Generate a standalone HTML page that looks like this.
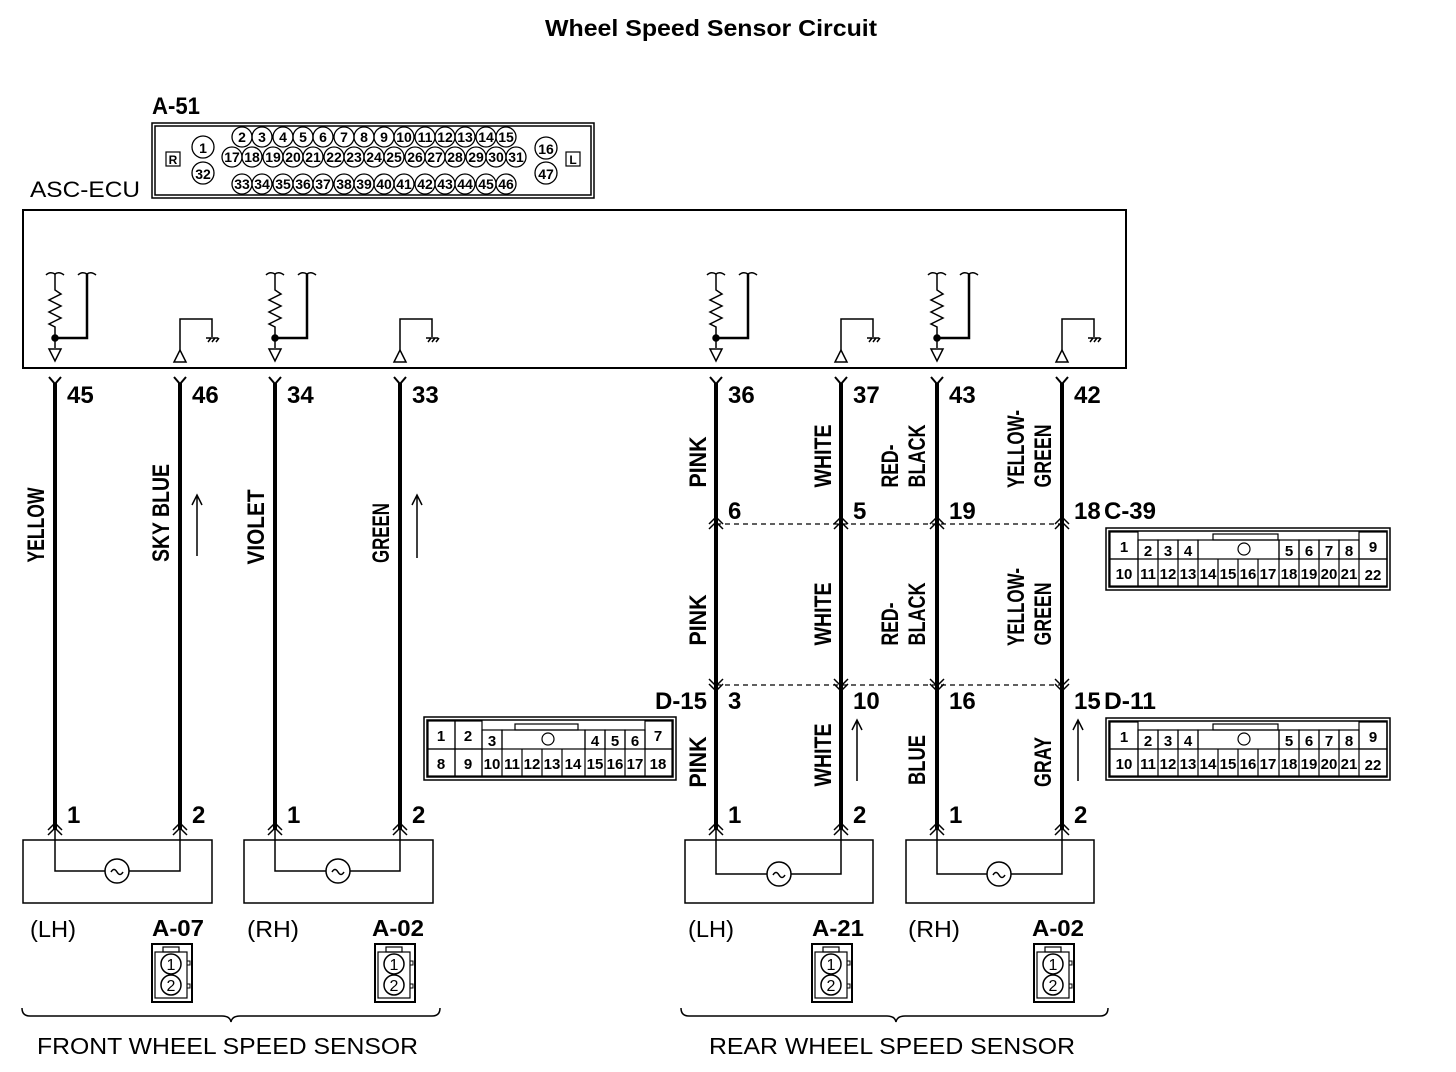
<!DOCTYPE html>
<html><head><meta charset="utf-8"><style>
html,body{margin:0;padding:0;background:#fff}
svg{display:block}
text{font-family:"Liberation Sans Narrow","Liberation Sans",sans-serif;fill:#000}
.b{font-weight:bold}
</style></head><body>
<svg width="1456" height="1072" viewBox="0 0 1456 1072" xmlns="http://www.w3.org/2000/svg">
<defs>
<g id="inp" fill="none" stroke="#000" stroke-width="1.5">
<path d="M-9,275 q4,-4 9,-1 q4,-3 9,1"/>
<path d="M0,274 V290 L6,294 L-6,300 L6,306 L-6,312 L6,318 L-6,324 L0,327 V348"/>
<path d="M23,275 q4,-4 9,-1 q4,-3 9,1"/>
<path d="M32,274 V338 H0" stroke-width="2.5"/>
<circle cx="0" cy="338" r="3" fill="#000"/>
<path d="M-6,349 H6 L0,361 Z"/>
</g>
<g id="out" fill="none" stroke="#000" stroke-width="1.5">
<path d="M-6,362 H6 L0,350 Z"/>
<path d="M0,350 V319 H32 V337"/>
<path d="M26,338 H38 M28,342 l3,-4 M32,342 l3,-4 M36,342 l3,-4"/>
</g>
<g id="ytop" fill="none" stroke="#000" stroke-width="2">
<path d="M-6,377 L0,384 L6,377"/>
</g>
<g id="dup" fill="none" stroke="#000" stroke-width="1.5">
<path d="M-7,8 L0,1 L7,8 M-7,13 L0,6 L7,13"/>
</g>
<g id="ddn" fill="none" stroke="#000" stroke-width="1.5">
<path d="M-7,-8 L0,-1 L7,-8 M-7,-13 L0,-6 L7,-13"/>
</g>
<g id="mini">
<rect x="0" y="0" width="40" height="58" fill="#fff" stroke="#000" stroke-width="2"/>
<rect x="3" y="8" width="32" height="46" fill="none" stroke="#000" stroke-width="1.2"/>
<rect x="11" y="3" width="16" height="5" fill="none" stroke="#000" stroke-width="1.2"/>
<rect x="35" y="17" width="3" height="4" fill="none" stroke="#000" stroke-width="1"/>
<rect x="35" y="40" width="3" height="4" fill="none" stroke="#000" stroke-width="1"/>
<circle cx="19" cy="20" r="10" fill="none" stroke="#000" stroke-width="1.5"/>
<circle cx="19" cy="41" r="10" fill="none" stroke="#000" stroke-width="1.5"/>
<text x="19" y="26" font-size="16" text-anchor="middle">1</text>
<text x="19" y="47" font-size="16" text-anchor="middle">2</text>
</g>
<g id="c39" font-size="15" class="b">
<rect x="0" y="0" width="284" height="62" fill="none" stroke="#000" stroke-width="1.5"/>
<rect x="3" y="3" width="278" height="56" fill="none" stroke="#000" stroke-width="1.5"/>
<g fill="none" stroke="#000" stroke-width="1.2">
<rect x="4" y="4" width="28" height="27"/><rect x="4" y="31" width="28" height="27"/>
<rect x="32" y="12" width="20" height="19"/><rect x="52" y="12" width="20" height="19"/><rect x="72" y="12" width="20" height="19"/>
<rect x="92" y="12" width="81" height="19"/><rect x="107" y="6" width="65" height="6"/>
<circle cx="138" cy="21" r="6"/>
<rect x="173" y="12" width="20" height="19"/><rect x="193" y="12" width="20" height="19"/><rect x="213" y="12" width="20" height="19"/><rect x="233" y="12" width="20" height="19"/>
<rect x="253" y="4" width="28" height="27"/><rect x="253" y="31" width="28" height="27"/>
<path d="M32,31 V58 H253 M52,31V58 M72,31V58 M92,31V58 M112,31V58 M132,31V58 M152,31V58 M173,31V58 M193,31V58 M213,31V58 M233,31V58"/>
</g>
<text x="18" y="24" text-anchor="middle">1</text><text x="18" y="51" text-anchor="middle">10</text>
<text x="42" y="28" text-anchor="middle">2</text><text x="62" y="28" text-anchor="middle">3</text><text x="82" y="28" text-anchor="middle">4</text>
<text x="183" y="28" text-anchor="middle">5</text><text x="203" y="28" text-anchor="middle">6</text><text x="223" y="28" text-anchor="middle">7</text><text x="243" y="28" text-anchor="middle">8</text>
<text x="267" y="24" text-anchor="middle">9</text><text x="267" y="52" text-anchor="middle">22</text>
<g text-anchor="middle"><text x="42" y="51">11</text><text x="62" y="51">12</text><text x="82" y="51">13</text><text x="102" y="51">14</text><text x="122" y="51">15</text><text x="142" y="51">16</text><text x="162" y="51">17</text><text x="183" y="51">18</text><text x="203" y="51">19</text><text x="223" y="51">20</text><text x="243" y="51">21</text></g>
</g>
</defs>

<text x="545" y="36" font-size="23" class="b" textLength="332" lengthAdjust="spacingAndGlyphs" font-family="Liberation Sans">Wheel Speed Sensor Circuit</text>

<!-- A-51 -->
<text x="152" y="114" font-size="24" class="b" textLength="48" lengthAdjust="spacingAndGlyphs">A-51</text>
<rect x="152" y="123" width="442" height="75" fill="none" stroke="#000" stroke-width="1.5"/>
<rect x="155" y="126" width="436" height="69" fill="none" stroke="#000" stroke-width="1.5"/>
<rect x="166" y="152" width="14" height="14" fill="none" stroke="#000" stroke-width="1.2"/>
<text x="173" y="164" font-size="12" class="b" text-anchor="middle">R</text>
<rect x="566" y="152" width="14" height="14" fill="none" stroke="#000" stroke-width="1.2"/>
<text x="573" y="164" font-size="12" class="b" text-anchor="middle">L</text>
<g fill="none" stroke="#000" stroke-width="1.3">
<circle cx="203" cy="147" r="11"/><circle cx="203" cy="173" r="11"/><circle cx="546" cy="148" r="11"/><circle cx="546" cy="173" r="11"/>
<circle cx="242" cy="137" r="10"/><circle cx="262" cy="137" r="10"/><circle cx="283" cy="137" r="10"/><circle cx="303" cy="137" r="10"/><circle cx="323" cy="137" r="10"/><circle cx="344" cy="137" r="10"/><circle cx="364" cy="137" r="10"/><circle cx="384" cy="137" r="10"/><circle cx="404" cy="137" r="10"/><circle cx="425" cy="137" r="10"/><circle cx="445" cy="137" r="10"/><circle cx="465" cy="137" r="10"/><circle cx="486" cy="137" r="10"/><circle cx="506" cy="137" r="10"/>
<circle cx="232" cy="157" r="10"/><circle cx="252" cy="157" r="10"/><circle cx="273" cy="157" r="10"/><circle cx="293" cy="157" r="10"/><circle cx="313" cy="157" r="10"/><circle cx="334" cy="157" r="10"/><circle cx="354" cy="157" r="10"/><circle cx="374" cy="157" r="10"/><circle cx="394" cy="157" r="10"/><circle cx="415" cy="157" r="10"/><circle cx="435" cy="157" r="10"/><circle cx="455" cy="157" r="10"/><circle cx="476" cy="157" r="10"/><circle cx="496" cy="157" r="10"/><circle cx="516" cy="157" r="10"/>
<circle cx="242" cy="184" r="10"/><circle cx="262" cy="184" r="10"/><circle cx="283" cy="184" r="10"/><circle cx="303" cy="184" r="10"/><circle cx="323" cy="184" r="10"/><circle cx="344" cy="184" r="10"/><circle cx="364" cy="184" r="10"/><circle cx="384" cy="184" r="10"/><circle cx="404" cy="184" r="10"/><circle cx="425" cy="184" r="10"/><circle cx="445" cy="184" r="10"/><circle cx="465" cy="184" r="10"/><circle cx="486" cy="184" r="10"/><circle cx="506" cy="184" r="10"/>
</g>
<g font-size="14" class="b" text-anchor="middle">
<text x="203" y="153">1</text><text x="203" y="179">32</text><text x="546" y="154">16</text><text x="546" y="179">47</text>
<text x="242" y="142">2</text><text x="262" y="142">3</text><text x="283" y="142">4</text><text x="303" y="142">5</text><text x="323" y="142">6</text><text x="344" y="142">7</text><text x="364" y="142">8</text><text x="384" y="142">9</text><text x="404" y="142">10</text><text x="425" y="142">11</text><text x="445" y="142">12</text><text x="465" y="142">13</text><text x="486" y="142">14</text><text x="506" y="142">15</text>
<text x="232" y="162">17</text><text x="252" y="162">18</text><text x="273" y="162">19</text><text x="293" y="162">20</text><text x="313" y="162">21</text><text x="334" y="162">22</text><text x="354" y="162">23</text><text x="374" y="162">24</text><text x="394" y="162">25</text><text x="415" y="162">26</text><text x="435" y="162">27</text><text x="455" y="162">28</text><text x="476" y="162">29</text><text x="496" y="162">30</text><text x="516" y="162">31</text>
<text x="242" y="189">33</text><text x="262" y="189">34</text><text x="283" y="189">35</text><text x="303" y="189">36</text><text x="323" y="189">37</text><text x="344" y="189">38</text><text x="364" y="189">39</text><text x="384" y="189">40</text><text x="404" y="189">41</text><text x="425" y="189">42</text><text x="445" y="189">43</text><text x="465" y="189">44</text><text x="486" y="189">45</text><text x="506" y="189">46</text>
</g>

<!-- ECU -->
<text x="30" y="197" font-size="22" font-family="Liberation Sans" textLength="110" lengthAdjust="spacingAndGlyphs">ASC-ECU</text>
<rect x="23" y="210" width="1103" height="158" fill="none" stroke="#000" stroke-width="2"/>
<use href="#inp" x="55"/><use href="#out" x="180"/><use href="#inp" x="275"/><use href="#out" x="400"/>
<use href="#inp" x="716"/><use href="#out" x="841"/><use href="#inp" x="937"/><use href="#out" x="1062"/>

<!-- wires -->
<g stroke="#000" stroke-width="4">
<path d="M55,383V830 M180,383V830 M275,383V830 M400,383V830 M716,383V830 M841,383V830 M937,383V830 M1062,383V830"/>
</g>
<use href="#ytop" x="55"/><use href="#ytop" x="180"/><use href="#ytop" x="275"/><use href="#ytop" x="400"/>
<use href="#ytop" x="716"/><use href="#ytop" x="841"/><use href="#ytop" x="937"/><use href="#ytop" x="1062"/>

<g font-size="24" class="b">
<text x="67" y="403">45</text><text x="192" y="403">46</text><text x="287" y="403">34</text><text x="412" y="403">33</text>
<text x="728" y="403">36</text><text x="853" y="403">37</text><text x="949" y="403">43</text><text x="1074" y="403">42</text>
<text x="728" y="519">6</text><text x="853" y="519">5</text><text x="949" y="519">19</text><text x="1074" y="519">18</text><text x="1104" y="519" textLength="52" lengthAdjust="spacingAndGlyphs">C-39</text>
<text x="655" y="709" textLength="52" lengthAdjust="spacingAndGlyphs">D-15</text><text x="728" y="709">3</text><text x="853" y="709">10</text><text x="949" y="709">16</text><text x="1074" y="709">15</text><text x="1104" y="709" textLength="52" lengthAdjust="spacingAndGlyphs">D-11</text>
<text x="67" y="823">1</text><text x="192" y="823">2</text><text x="287" y="823">1</text><text x="412" y="823">2</text>
<text x="728" y="823">1</text><text x="853" y="823">2</text><text x="949" y="823">1</text><text x="1074" y="823">2</text>
</g>

<!-- junctions -->
<g stroke="#000" stroke-width="1.2" stroke-dasharray="5,4" fill="none">
<path d="M716,524 H1062 M716,685 H1062"/>
</g>
<use href="#dup" x="716" y="516"/><use href="#dup" x="841" y="516"/><use href="#dup" x="937" y="516"/><use href="#dup" x="1062" y="516"/>
<use href="#ddn" x="716" y="692"/><use href="#ddn" x="841" y="692"/><use href="#ddn" x="937" y="692"/><use href="#ddn" x="1062" y="692"/>
<use href="#dup" x="55" y="822"/><use href="#dup" x="180" y="822"/><use href="#dup" x="275" y="822"/><use href="#dup" x="400" y="822"/>
<use href="#dup" x="716" y="822"/><use href="#dup" x="841" y="822"/><use href="#dup" x="937" y="822"/><use href="#dup" x="1062" y="822"/>

<!-- vertical labels -->
<g font-size="24" class="b" text-anchor="middle" lengthAdjust="spacingAndGlyphs">
<text transform="translate(44,525) rotate(-90)" textLength="75" lengthAdjust="spacingAndGlyphs">YELLOW</text>
<text transform="translate(169,513) rotate(-90)" textLength="98" lengthAdjust="spacingAndGlyphs">SKY BLUE</text>
<text transform="translate(264,527) rotate(-90)" textLength="75" lengthAdjust="spacingAndGlyphs">VIOLET</text>
<text transform="translate(389,533) rotate(-90)" textLength="60" lengthAdjust="spacingAndGlyphs">GREEN</text>
<text transform="translate(706,462) rotate(-90)" textLength="51" lengthAdjust="spacingAndGlyphs">PINK</text>
<text transform="translate(831,456) rotate(-90)" textLength="63" lengthAdjust="spacingAndGlyphs">WHITE</text>
<text transform="translate(898,466) rotate(-90)" textLength="43" lengthAdjust="spacingAndGlyphs">RED-</text>
<text transform="translate(925,456) rotate(-90)" textLength="63" lengthAdjust="spacingAndGlyphs">BLACK</text>
<text transform="translate(1024,449) rotate(-90)" textLength="78" lengthAdjust="spacingAndGlyphs">YELLOW-</text>
<text transform="translate(1051,456) rotate(-90)" textLength="63" lengthAdjust="spacingAndGlyphs">GREEN</text>
<text transform="translate(706,620) rotate(-90)" textLength="51" lengthAdjust="spacingAndGlyphs">PINK</text>
<text transform="translate(831,614) rotate(-90)" textLength="63" lengthAdjust="spacingAndGlyphs">WHITE</text>
<text transform="translate(898,624) rotate(-90)" textLength="43" lengthAdjust="spacingAndGlyphs">RED-</text>
<text transform="translate(925,614) rotate(-90)" textLength="63" lengthAdjust="spacingAndGlyphs">BLACK</text>
<text transform="translate(1024,607) rotate(-90)" textLength="78" lengthAdjust="spacingAndGlyphs">YELLOW-</text>
<text transform="translate(1051,614) rotate(-90)" textLength="63" lengthAdjust="spacingAndGlyphs">GREEN</text>
<text transform="translate(706,762) rotate(-90)" textLength="51" lengthAdjust="spacingAndGlyphs">PINK</text>
<text transform="translate(831,755) rotate(-90)" textLength="63" lengthAdjust="spacingAndGlyphs">WHITE</text>
<text transform="translate(925,760) rotate(-90)" textLength="50" lengthAdjust="spacingAndGlyphs">BLUE</text>
<text transform="translate(1051,762) rotate(-90)" textLength="50" lengthAdjust="spacingAndGlyphs">GRAY</text>
</g>

<!-- arrows -->
<g stroke="#000" stroke-width="1.5" fill="none">
<path d="M197,556V496 M192,505 L197,495 L202,505"/>
<path d="M417,558V496 M412,505 L417,495 L422,505"/>
<path d="M857,781V721 M852,730 L857,720 L862,730"/>
<path d="M1078,781V721 M1073,730 L1078,720 L1083,730"/>
</g>

<!-- connectors -->
<use href="#c39" x="1106" y="528"/>
<use href="#c39" x="1106" y="718"/>
<g transform="translate(424,717)" font-size="15" class="b">
<rect x="0" y="0" width="252" height="63" fill="none" stroke="#000" stroke-width="1.5"/>
<rect x="3" y="3" width="246" height="57" fill="none" stroke="#000" stroke-width="1.5"/>
<g fill="none" stroke="#000" stroke-width="1.2">
<rect x="4" y="4" width="27" height="28"/><rect x="31" y="4" width="27" height="28"/>
<rect x="4" y="32" width="27" height="27"/><rect x="31" y="32" width="27" height="27"/>
<rect x="58" y="13" width="20" height="19"/><rect x="78" y="13" width="83" height="19"/><rect x="91" y="7" width="63" height="6"/>
<circle cx="124" cy="22" r="6"/>
<rect x="161" y="13" width="20" height="19"/><rect x="181" y="13" width="20" height="19"/><rect x="201" y="13" width="20" height="19"/>
<rect x="221" y="4" width="27" height="28"/><rect x="221" y="32" width="27" height="27"/>
<path d="M58,32 V59 H221 M78,32V59 M98,32V59 M118,32V59 M138,32V59 M161,32V59 M181,32V59 M201,32V59"/>
</g>
<g text-anchor="middle">
<text x="17" y="24">1</text><text x="44" y="24">2</text><text x="17" y="52">8</text><text x="44" y="52">9</text>
<text x="68" y="29">3</text><text x="171" y="29">4</text><text x="191" y="29">5</text><text x="211" y="29">6</text>
<text x="234" y="24">7</text><text x="234" y="52">18</text>
<text x="68" y="52">10</text><text x="88" y="52">11</text><text x="108" y="52">12</text><text x="128" y="52">13</text><text x="149" y="52">14</text><text x="171" y="52">15</text><text x="191" y="52">16</text><text x="211" y="52">17</text>
</g>
</g>

<!-- sensors -->
<g fill="none" stroke="#000" stroke-width="1.5">
<rect x="23" y="840" width="189" height="63"/><rect x="244" y="840" width="189" height="63"/>
<rect x="685" y="840" width="188" height="63"/><rect x="906" y="840" width="188" height="63"/>
<path d="M55,830V871H105 M129,871H180V830"/><circle cx="117" cy="871" r="12"/><path d="M111,872 q3,-5 6,0 q3,5 6,0"/>
<path d="M275,830V871H326 M350,871H400V830"/><circle cx="338" cy="871" r="12"/><path d="M332,872 q3,-5 6,0 q3,5 6,0"/>
<path d="M716,830V874H767 M791,874H841V830"/><circle cx="779" cy="874" r="12"/><path d="M773,875 q3,-5 6,0 q3,5 6,0"/>
<path d="M937,830V874H987 M1011,874H1062V830"/><circle cx="999" cy="874" r="12"/><path d="M993,875 q3,-5 6,0 q3,5 6,0"/>
</g>
<g font-size="23">
<text x="30" y="937" font-family="Liberation Sans" textLength="46" lengthAdjust="spacingAndGlyphs">(LH)</text>
<text x="247" y="937" font-family="Liberation Sans" textLength="52" lengthAdjust="spacingAndGlyphs">(RH)</text>
<text x="688" y="937" font-family="Liberation Sans" textLength="46" lengthAdjust="spacingAndGlyphs">(LH)</text>
<text x="908" y="937" font-family="Liberation Sans" textLength="52" lengthAdjust="spacingAndGlyphs">(RH)</text>
<text x="152" y="936" class="b" textLength="52" lengthAdjust="spacingAndGlyphs">A-07</text>
<text x="372" y="936" class="b" textLength="52" lengthAdjust="spacingAndGlyphs">A-02</text>
<text x="812" y="936" class="b" textLength="52" lengthAdjust="spacingAndGlyphs">A-21</text>
<text x="1032" y="936" class="b" textLength="52" lengthAdjust="spacingAndGlyphs">A-02</text>
</g>
<use href="#mini" x="152" y="944"/><use href="#mini" x="375" y="944"/>
<use href="#mini" x="812" y="944"/><use href="#mini" x="1034" y="944"/>

<!-- braces -->
<g fill="none" stroke="#000" stroke-width="1.5">
<path d="M22,1008 q0,8 8,8 H222 q8,0 9,6 q1,-6 9,-6 H432 q8,0 8,-8"/>
<path d="M681,1008 q0,8 8,8 H887 q8,0 9,6 q1,-6 9,-6 H1100 q8,0 8,-8"/>
</g>
<text x="37" y="1054" font-size="23" font-family="Liberation Sans" textLength="381" lengthAdjust="spacingAndGlyphs">FRONT WHEEL SPEED SENSOR</text>
<text x="709" y="1054" font-size="23" font-family="Liberation Sans" textLength="366" lengthAdjust="spacingAndGlyphs">REAR WHEEL SPEED SENSOR</text>
</svg>
</body></html>
